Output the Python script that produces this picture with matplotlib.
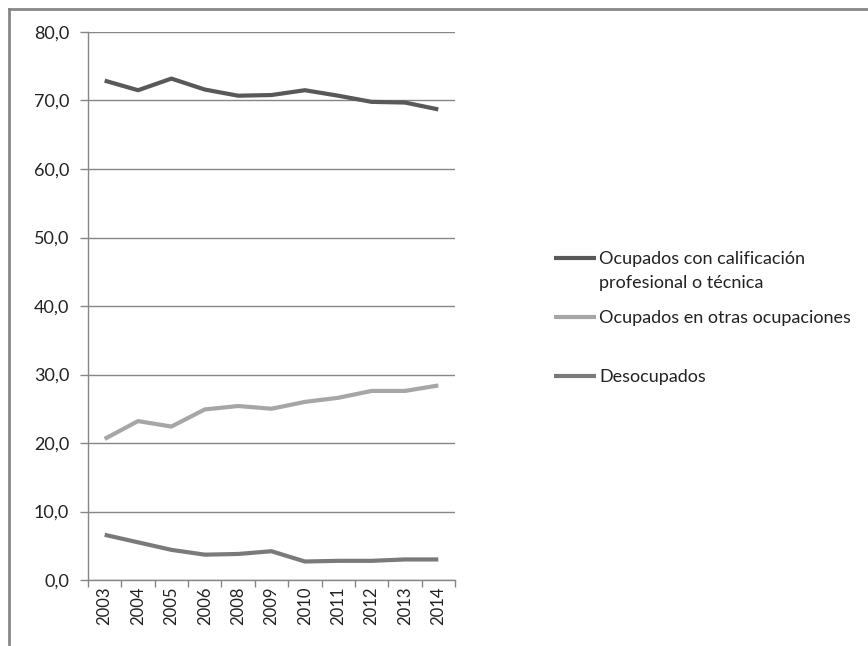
import matplotlib
matplotlib.use("Agg")
import numpy as np
import matplotlib.pyplot as plt
from matplotlib.lines import Line2D
from matplotlib.legend_handler import HandlerLine2D
from matplotlib.ticker import FuncFormatter, FixedLocator, NullFormatter

plt.rcParams['font.family'] = ['Lato', 'DejaVu Sans']

# Years and shares (%) per group
years = ["2003", "2004", "2005", "2006", "2008", "2009",
         "2010", "2011", "2012", "2013", "2014"]
calificados = [72.9, 71.5, 73.2, 71.6, 70.7, 70.8, 71.5, 70.7, 69.8, 69.7, 68.7]
otras = [20.6, 23.2, 22.4, 24.9, 25.4, 25.0, 26.0, 26.6, 27.6, 27.6, 28.4]
desocupados = [6.6, 5.5, 4.4, 3.7, 3.8, 4.2, 2.7, 2.8, 2.8, 3.0, 3.0]

labels = ["Ocupados con calificación\nprofesional o técnica",
          "Ocupados en otras ocupaciones\n ",
          "Desocupados"]
colors = ["#595959", "#a6a6a6", "#7a7a7a"]
axis_grey = "#868686"
FS = 13
LINESPACING = 1.63
LINE_STEP_PT = 26 * 72 / 100  # distance between label lines, in points


class TopLineHandler(HandlerLine2D):
    """Legend key aligned with the first line of a two-line label."""
    def create_artists(self, legend, orig_handle, xdescent, ydescent,
                       width, height, fontsize, trans):
        artists = super().create_artists(legend, orig_handle, xdescent, ydescent,
                                         width, height, fontsize, trans)
        for a in artists:
            a.set_ydata(np.asarray(a.get_ydata()) + 0.5 * LINE_STEP_PT)
        return artists


fig = plt.figure(figsize=(8.68, 6.46), dpi=100)
ax = fig.add_axes([88 / 868, 1 - 580 / 646, (455 - 88) / 868, (580 - 32) / 646])

x = list(range(len(years)))
lines = []
for series, lab, col in zip([calificados, otras, desocupados], labels, colors):
    ln, = ax.plot(x, series, color=col, lw=3.0, label=lab, solid_capstyle="butt")
    lines.append(ln)

ax.set_xlim(-0.5, len(years) - 0.5)
ax.set_ylim(0, 80)
ax.set_yticks(range(0, 81, 10))
ax.yaxis.set_major_formatter(FuncFormatter(lambda v, p: f"{v:.1f}".replace(".", ",")))
ax.grid(axis="y", color=axis_grey, lw=1)
ax.set_axisbelow(True)

# category labels centred, tick marks between categories
ax.set_xticks(x)
ax.set_xticklabels(years, rotation=90)
ax.tick_params(axis="x", which="major", length=0, pad=5, labelsize=12)
ax.xaxis.set_minor_locator(FixedLocator([i - 0.5 for i in range(len(years) + 1)]))
ax.xaxis.set_minor_formatter(NullFormatter())
ax.tick_params(axis="x", which="minor", length=5, color=axis_grey, width=1)
ax.tick_params(axis="y", length=6, color=axis_grey, width=1, pad=7.5, labelsize=FS)
ax.tick_params(labelcolor="#222222")

for side in ["top", "right"]:
    ax.spines[side].set_visible(False)
for side in ["left", "bottom"]:
    ax.spines[side].set_color(axis_grey)
    ax.spines[side].set_linewidth(1)

top = TopLineHandler()
leg = fig.legend(handles=lines, loc="upper left",
                 bbox_to_anchor=(554 / 868, 1 - 251 / 646), frameon=False,
                 fontsize=FS, handlelength=2.3, handletextpad=0.2, labelspacing=1.05,
                 borderpad=0, borderaxespad=0,
                 handler_map={lines[0]: top, lines[1]: top})
for t in leg.get_texts():
    t.set_linespacing(LINESPACING)
    t.set_color("#222222")

# outer frame: top and left edges
fig.add_artist(Line2D([9 / 868, 9 / 868], [1 - 9 / 646, 1 - 644 / 646],
                      color="#878787", lw=2, transform=fig.transFigure))
fig.add_artist(Line2D([9 / 868, 1], [1 - 9 / 646, 1 - 9 / 646],
                      color="#878787", lw=2, transform=fig.transFigure))

fig.savefig("out.png", dpi=100)
